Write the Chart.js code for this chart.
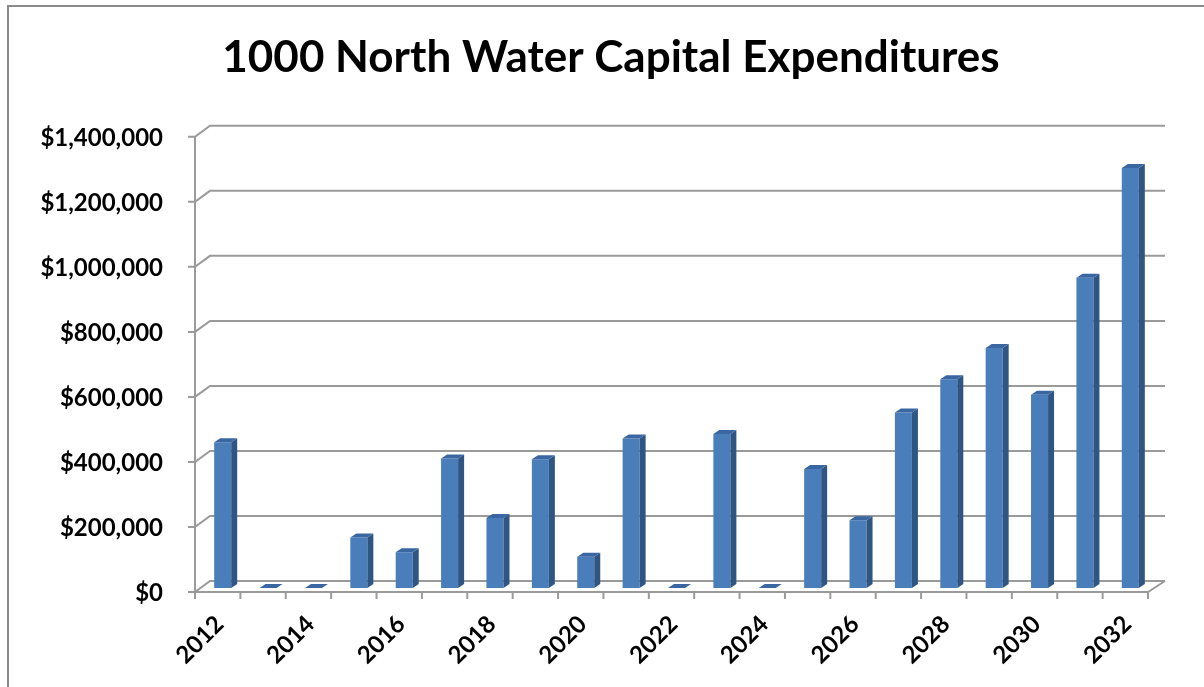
<!DOCTYPE html>
<html>
<head>
<meta charset="utf-8">
<script src="https://cdn.jsdelivr.net/npm/chart.js@4"></script>
<style>
    body { margin: 0; background: #fff; }
    #wrap { width: 1204px; height: 687px; }
</style>
</head>
<body>
<div id="wrap"><canvas id="capexChart" width="1204" height="687"></canvas></div>
<script>
    // Data
    const years = ['2012', '2013', '2014', '2015', '2016', '2017', '2018', '2019', '2020', '2021', '2022',
                   '2023', '2024', '2025', '2026', '2027', '2028', '2029', '2030', '2031', '2032'];
    const expenditures = [448000, 0, 0, 155000, 110000, 398000, 215000, 396000, 96000, 460000, 0,
                          474000, 0, 366000, 208000, 540000, 642000, 738000, 594000, 954000, 1292000];
    const yTicks = [0, 200000, 400000, 600000, 800000, 1000000, 1200000, 1400000];

    const FONT = 'Lato, "Open Sans", sans-serif';
    const gridColor = '#9a9a9a';

    // offsets of the front edge and the back wall from the bar plane
    const front = { dx: -5, dy: 4 };
    const back = { dx: 10, dy: -7 };

    const frame = {
        id: 'frame',
        beforeDraw(chart) {
            const ctx = chart.ctx;
            ctx.save();
            ctx.strokeStyle = '#8a8a8a';
            ctx.lineWidth = 2;
            ctx.strokeRect(8, 6, 1400, 900);
            ctx.restore();
        }
    };

    // 3D-looking walls, floor and ticks
    const walls = {
        id: 'walls',
        beforeDatasetsDraw(chart) {
            const ctx = chart.ctx;
            const ys = chart.scales.y;
            const L = chart.chartArea.left;
            const R = chart.chartArea.right;
            ctx.save();
            ctx.strokeStyle = gridColor;
            ctx.lineWidth = 2;
            yTicks.forEach(v => {
                const y = ys.getPixelForValue(v);
                ctx.beginPath();
                ctx.moveTo(L + front.dx - 7, y + front.dy);
                ctx.lineTo(L + front.dx, y + front.dy);
                ctx.lineTo(L + back.dx, y + back.dy);
                ctx.lineTo(R + back.dx + 2, y + back.dy);
                ctx.stroke();
            });
            const y0 = ys.getPixelForValue(0);
            const yTop = ys.getPixelForValue(1400000);
            ctx.beginPath();
            ctx.moveTo(L + front.dx, yTop + front.dy);
            ctx.lineTo(L + front.dx, y0 + front.dy);
            ctx.lineTo(R + front.dx, y0 + front.dy);
            ctx.lineTo(R + back.dx + 2, y0 + back.dy);
            ctx.stroke();
            // category boundary ticks on the front edge
            const step = (R - L) / years.length;
            for (let i = 0; i <= years.length; i++) {
                const x = L + front.dx + i * step;
                ctx.beginPath();
                ctx.moveTo(x, y0 + front.dy);
                ctx.lineTo(x, y0 + front.dy + 7);
                ctx.stroke();
            }
            ctx.restore();
        },
        afterDatasetsDraw(chart) {
            const ctx = chart.ctx;
            const meta = chart.getDatasetMeta(0);
            const d = 6, h = 4;
            ctx.save();
            meta.data.forEach(bar => {
                const p = bar.getProps(['x', 'y', 'base', 'width'], true);
                const l = p.x - p.width / 2;
                const r = p.x + p.width / 2;
                if (p.base - p.y > 0.5) {
                    ctx.fillStyle = '#2f5583';
                    ctx.beginPath();
                    ctx.moveTo(r, p.y);
                    ctx.lineTo(r + d, p.y - h);
                    ctx.lineTo(r + d, p.base - h);
                    ctx.lineTo(r, p.base);
                    ctx.closePath();
                    ctx.fill();
                }
                ctx.fillStyle = '#3a66a2';
                ctx.beginPath();
                ctx.moveTo(l, p.y);
                ctx.lineTo(l + d, p.y - h);
                ctx.lineTo(r + d, p.y - h);
                ctx.lineTo(r, p.y);
                ctx.closePath();
                ctx.fill();
            });
            ctx.restore();
        }
    };

    function drawChart() {
        const ctx = document.getElementById('capexChart').getContext('2d');
        new Chart(ctx, {
            type: 'bar',
            data: {
                labels: years,
                datasets: [{
                    label: 'Capital Expenditures',
                    data: expenditures,
                    backgroundColor: '#4a7ebb',
                    borderWidth: 0,
                    barPercentage: 0.375,
                    categoryPercentage: 1
                }]
            },
            options: {
                responsive: false,
                animation: false,
                layout: { padding: { left: 18, right: 0, top: 0, bottom: 0 } },
                scales: {
                    x: {
                        grid: { display: false, drawTicks: false },
                        border: { display: false },
                        ticks: {
                            autoSkip: false,
                            maxRotation: 45,
                            minRotation: 45,
                            padding: 22,
                            labelOffset: -3,
                            color: '#000',
                            font: { family: FONT, size: 24, weight: 'bold' },
                            callback: function(value, index) {
                                return index % 2 === 0 ? years[index] : '';
                            }
                        },
                        afterFit: scale => { scale.height = 99; }
                    },
                    y: {
                        min: 0,
                        max: 1400000,
                        grid: { display: false, drawTicks: false },
                        border: { display: false },
                        ticks: {
                            stepSize: 200000,
                            padding: 37,
                            labelOffset: 5,
                            color: '#000',
                            font: { family: FONT, size: 24, weight: 'bold' },
                            callback: value => '$' + value.toLocaleString('en-US')
                        },
                        afterFit: scale => { scale.width = 182; }
                    },
                    // empty right axis, only keeps the room on the right of the plot
                    yRight: {
                        position: 'right',
                        grid: { display: false, drawTicks: false },
                        border: { display: false },
                        ticks: { display: false },
                        afterFit: scale => { scale.width = 51; }
                    }
                },
                plugins: {
                    legend: { display: false },
                    tooltip: { enabled: false },
                    title: {
                        display: true,
                        text: '1000 North Water Capital Expenditures',
                        color: '#000',
                        font: { family: FONT, size: 44, weight: 'bold', lineHeight: 1.2 },
                        padding: { top: 31, bottom: 49 }
                    }
                }
            },
            plugins: [frame, walls]
        });
    }

    drawChart();
</script>
</body>
</html>
